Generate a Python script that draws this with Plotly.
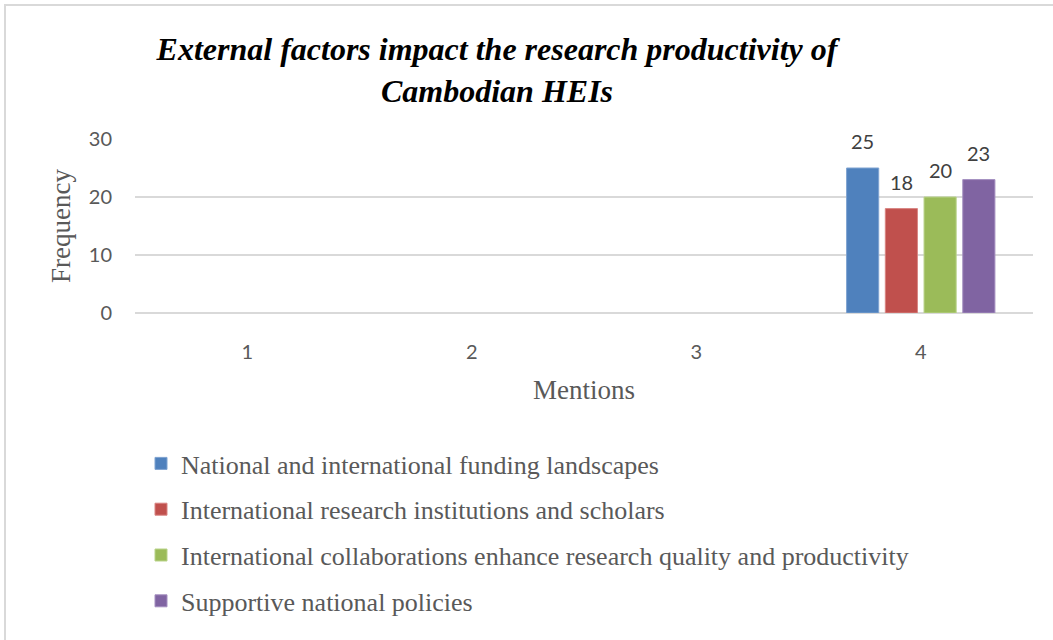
import plotly.graph_objects as go

# Categories on the x axis (number of mentions)
mentions = ["1", "2", "3", "4"]

# Frequency per factor; only the "4 mentions" category holds values
funding = [None, None, None, 25]
institutions = [None, None, None, 18]
collaborations = [None, None, None, 20]
policies = [None, None, None, 23]

series_names = [
    "National and international funding landscapes",
    "International research institutions and scholars",
    "International collaborations enhance research quality and productivity",
    "Supportive national policies",
]
series_values = [funding, institutions, collaborations, policies]
series_colors = ["#4f81bd", "#c0504d", "#9bbb59", "#8064a2"]
outline_colors = ["#7fa3d1", "#d98583", "#b9d38a", "#a48fc0"]

W, H = 1053, 640
L, R, T, B = 135, 20, 139, 327
plot_w = W - L - R
plot_h = H - T - B
BARGAP, GROUPGAP = 0.31, 0.17


def px_x(px):
    return (px - L) / plot_w


def px_y(py):
    return (H - B - py) / plot_h


fig = go.Figure()
n_series = len(series_names)
slot = (1 - BARGAP) / n_series
for i, (name, vals, col, ocol) in enumerate(zip(series_names, series_values, series_colors, outline_colors)):
    fig.add_trace(go.Bar(
        x=mentions, y=vals, name=name,
        marker=dict(color=col, line=dict(color=ocol, width=1)),
        legendgroup=f"g{i}",
    ))
    # value labels above each bar
    offset = -(1 - BARGAP) / 2 + slot * (i + 0.5)
    for j, v in enumerate(vals):
        if v is None:
            continue
        fig.add_annotation(
            x=j + offset, y=v, xref="x", yref="y",
            text=str(v), showarrow=False, yanchor="bottom", yshift=13,
            font=dict(family="Lato", size=20, color="#404040"),
        )

# light frame around the whole chart
fig.add_shape(type="rect", xref="paper", yref="paper",
              x0=px_x(5), x1=px_x(W + 10), y0=px_y(H + 10), y1=px_y(5),
              line=dict(color="#d9d9d9", width=2), fillcolor="rgba(0,0,0,0)",
              layer="below")

fig.update_layout(
    width=W, height=H,
    margin=dict(l=L, r=R, t=T, b=B, autoexpand=False),
    paper_bgcolor="white", plot_bgcolor="white",
    barmode="group", bargap=BARGAP, bargroupgap=GROUPGAP,
    title=dict(
        text="<b><i>External factors impact the research productivity of<br>Cambodian HEIs</i></b>",
        font=dict(family="Liberation Serif", size=32, color="black"),
        x=497 / W, xref="container", xanchor="center",
        y=1 - 60 / H, yref="container", yanchor="middle",
    ),
    xaxis=dict(
        showgrid=False, showline=False, zeroline=False,
        tickfont=dict(family="Lato", size=20, color="#595959"),
        ticklabelstandoff=25,
        title=dict(text="Mentions", standoff=18,
                   font=dict(family="Liberation Serif", size=27, color="#595959")),
    ),
    yaxis=dict(
        range=[0, 30], tickvals=[0, 10, 20, 30],
        showgrid=True, gridcolor="#d9d9d9", gridwidth=1.5,
        zeroline=True, zerolinecolor="#d9d9d9", zerolinewidth=1.5,
        showline=False,
        tickfont=dict(family="Lato", size=20, color="#595959"),
        ticklabelstandoff=22,
        title=dict(text="Frequency", standoff=10,
                   font=dict(family="Liberation Serif", size=27, color="#595959")),
    ),
    legend=dict(
        orientation="v", traceorder="grouped", tracegroupgap=9,
        x=px_x(141), xanchor="left",
        y=px_y(440), yanchor="top",
        font=dict(family="Liberation Serif", size=26, color="#595959"),
        itemwidth=30,
    ),
    showlegend=True,
)

fig.write_html("out.html")
